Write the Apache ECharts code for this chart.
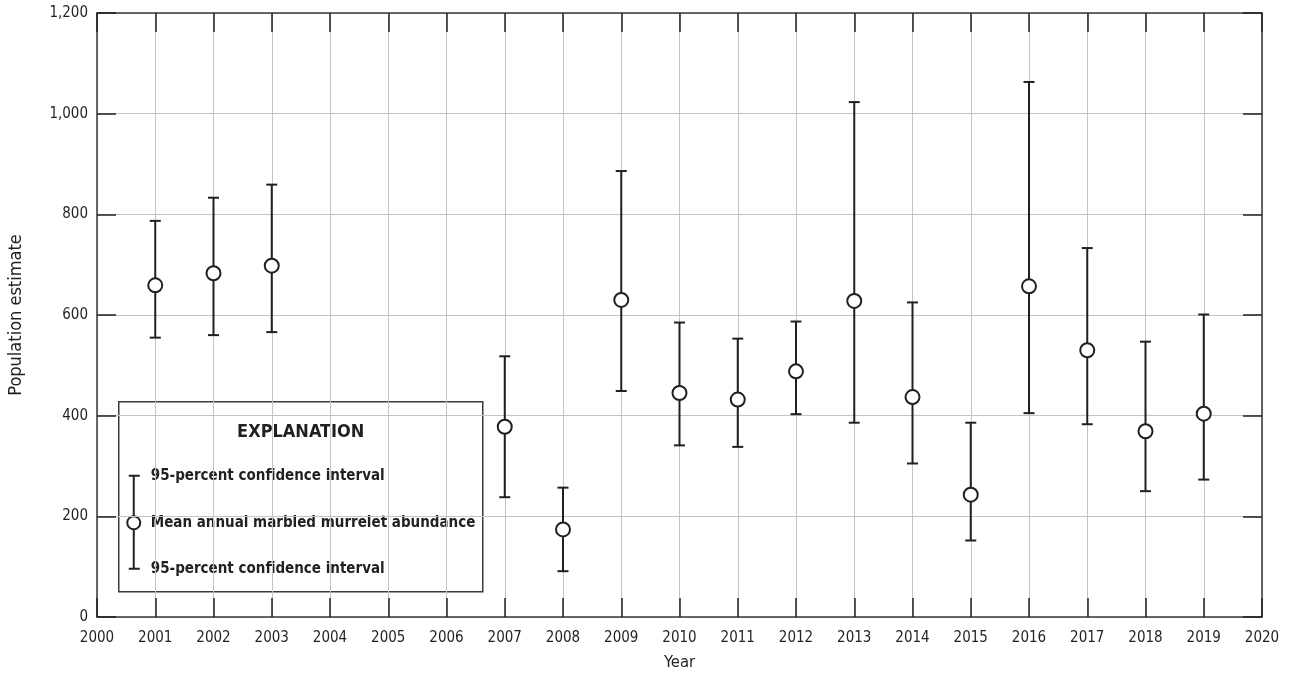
<!DOCTYPE html>
<html>
<head>
<meta charset="utf-8">
<script src="https://cdn.jsdelivr.net/npm/echarts@6/dist/echarts.min.js"></script>
<style>
  html, body { margin: 0; padding: 0; background: #fff; }
  #chart { width: 1289px; height: 676px; }
</style>
</head>
<body>
<div id="chart"></div>
<script>
  const years = [2001, 2002, 2003, 2007, 2008, 2009, 2010, 2011, 2012, 2013, 2014, 2015, 2016, 2017, 2018, 2019];
  const meanAbundance = [659, 683, 698, 378, 174, 630, 445, 432, 488, 628, 437, 243, 657, 530, 369, 404];
  const lowerCI = [555, 560, 566, 238, 91, 449, 341, 338, 403, 386, 305, 152, 405, 383, 250, 273];
  const upperCI = [787, 833, 859, 518, 257, 886, 585, 553, 587, 1023, 625, 386, 1063, 733, 547, 601];

  const font = 'DejaVu Sans Condensed';
  const ink = '#231f20';

  const chart = echarts.init(document.getElementById('chart'));

  const tickStyle = { show: true, inside: true, length: 19, lineStyle: { color: ink, width: 1.5 } };
  const lineStyle = { show: true, onZero: false, lineStyle: { color: '#3a3a3a', width: 1.5 } };
  const gridStyle = { show: true, lineStyle: { color: '#c4c4c4', width: 1 } };

  chart.setOption({
    animation: false,
    textStyle: { fontFamily: font },
    grid: { left: 97, right: 27, top: 13, bottom: 59, outerBoundsMode: 'none', containLabel: false },
    xAxis: [{
      type: 'value', min: 2000, max: 2020, interval: 1,
      name: 'Year', nameLocation: 'middle', nameGap: 37,
      nameTextStyle: { fontSize: 16.5, color: ink, fontFamily: font },
      axisLine: lineStyle, axisTick: tickStyle,
      axisLabel: { fontSize: 15, color: ink, margin: 14, fontFamily: font, formatter: v => String(v) },
      splitLine: gridStyle
    }, {
      type: 'value', min: 2000, max: 2020, interval: 1, position: 'top',
      axisLine: lineStyle, axisTick: tickStyle, axisLabel: { show: false }, splitLine: { show: false }
    }],
    yAxis: [{
      type: 'value', min: 0, max: 1200, interval: 200,
      name: 'Population estimate', nameLocation: 'middle', nameGap: 72,
      nameTextStyle: { fontSize: 18, color: ink, fontFamily: font },
      axisLine: lineStyle, axisTick: tickStyle,
      axisLabel: { fontSize: 15, color: ink, margin: 9, fontFamily: font,
        formatter: v => v.toLocaleString('en-US') },
      splitLine: gridStyle
    }, {
      type: 'value', min: 0, max: 1200, interval: 200, position: 'right',
      axisLine: lineStyle, axisTick: tickStyle, axisLabel: { show: false }, splitLine: { show: false }
    }],
    series: [{
      name: '95-percent confidence interval',
      type: 'custom',
      z: 3,
      data: years.map((y, i) => [y, lowerCI[i], upperCI[i]]),
      renderItem: function (params, api) {
        const lo = api.coord([api.value(0), api.value(1)]);
        const hi = api.coord([api.value(0), api.value(2)]);
        const half = 5.5;
        const style = { stroke: ink, lineWidth: 2 };
        return {
          type: 'group',
          children: [
            { type: 'line', shape: { x1: lo[0], y1: lo[1], x2: hi[0], y2: hi[1] }, style: style },
            { type: 'line', shape: { x1: lo[0] - half, y1: lo[1], x2: lo[0] + half, y2: lo[1] }, style: style },
            { type: 'line', shape: { x1: hi[0] - half, y1: hi[1], x2: hi[0] + half, y2: hi[1] }, style: style }
          ]
        };
      }
    }, {
      name: 'Mean annual marbled murrelet abundance',
      type: 'scatter',
      z: 4,
      symbol: 'circle',
      symbolSize: 14,
      itemStyle: { color: '#ffffff', opacity: 1, borderColor: ink, borderWidth: 2 },
      data: years.map((y, i) => [y, meanAbundance[i]])
    }],
    graphic: [{
      type: 'group',
      left: 118, top: 401,
      z: 10,
      children: [
        { type: 'rect', shape: { x: 0, y: 0, width: 364, height: 190 },
          style: { fill: 'rgba(255,255,255,0.94)', stroke: '#3a3a3a', lineWidth: 1.5 } },
        { type: 'text', x: 182, y: 31,
          style: { text: 'EXPLANATION', fill: ink, font: "bold 18px 'DejaVu Sans Condensed'", align: 'center', verticalAlign: 'middle' } },
        { type: 'line', shape: { x1: 15, y1: 74, x2: 15, y2: 167 }, style: { stroke: ink, lineWidth: 2 } },
        { type: 'line', shape: { x1: 10, y1: 74, x2: 21, y2: 74 }, style: { stroke: ink, lineWidth: 2 } },
        { type: 'line', shape: { x1: 10, y1: 167, x2: 21, y2: 167 }, style: { stroke: ink, lineWidth: 2 } },
        { type: 'circle', shape: { cx: 15, cy: 121, r: 6.5 }, style: { fill: '#fff', stroke: ink, lineWidth: 2 } },
        { type: 'text', x: 32, y: 74,
          style: { text: '95-percent confidence interval', fill: ink, font: "bold 15px 'DejaVu Sans Condensed'", verticalAlign: 'middle' } },
        { type: 'text', x: 32, y: 121,
          style: { text: 'Mean annual marbled murrelet abundance', fill: ink, font: "bold 15px 'DejaVu Sans Condensed'", verticalAlign: 'middle' } },
        { type: 'text', x: 32, y: 167,
          style: { text: '95-percent confidence interval', fill: ink, font: "bold 15px 'DejaVu Sans Condensed'", verticalAlign: 'middle' } }
      ]
    }]
  });
</script>
</body>
</html>
